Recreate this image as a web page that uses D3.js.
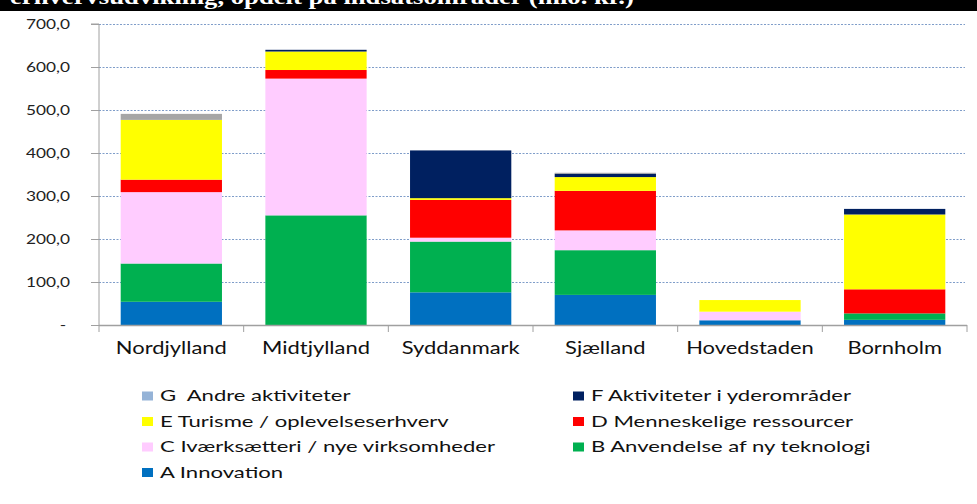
<!DOCTYPE html>
<html><head><meta charset="utf-8">
<script src="https://cdn.jsdelivr.net/npm/d3@7"></script>
<style>body{margin:0;background:#fff}svg{display:block}text{white-space:pre}</style>
</head><body>
<svg id="c" width="977" height="504"></svg>
<script>
const title = "erhvervsudvikling, opdelt på indsatsområder (mio. kr.)";
const categories = ["Nordjylland","Midtjylland","Syddanmark","Sjælland","Hovedstaden","Bornholm"];
const seriesKeys = ["A","B","C","D","E","F","G"];
const seriesNames = ["A Innovation","B Anvendelse af ny teknologi","C Iværksætteri / nye virksomheder","D Menneskelige ressourcer","E Turisme / oplevelseserhverv","F Aktiviteter i yderområder","G  Andre aktiviteter"];
const A = [54, 0, 76, 70, 11, 12];
const B = [89, 255, 118, 104, 0, 15];
const C = [166, 318, 9, 46, 20, 0];
const D = [29, 20, 88, 92, 0, 56];
const E = [139, 43, 4, 32, 27, 174];
const F = [0, 4, 111, 8, 0, 13];
const G = [14, 0, 0, 2, 0, 0];
const barColors = ["#0070c0","#00b050","#ffccff","#ff0000","#ffff00","#002060","#a6a6a6"];
const legendColors = ["#0070c0","#00b050","#ffccff","#ff0000","#ffff00","#002060","#95b3d7"];
const yTicks = [0,100,200,300,400,500,600,700];
const legendOrder = ["G","F","E","D","C","B","A"];

const svg = d3.select("#c");
const font = "Lato, 'Open Sans', sans-serif";

function stretchedText(parent, tx, ty, sx, txt, size, anchor, fill){
  const g = parent.append("g").attr("transform",`translate(${tx},${ty}) scale(${sx},1)`);
  return g.append("text").attr("x",0).attr("y",0).attr("text-anchor",anchor||"start")
    .attr("font-family",font).attr("font-size",size).attr("fill",fill||"#111").text(txt);
}

// title band
svg.append("rect").attr("x",0).attr("y",0).attr("width",977).attr("height",11).attr("fill","#000");
svg.append("defs").append("clipPath").attr("id","tc").append("rect").attr("x",0).attr("y",0).attr("width",977).attr("height",11);
const tg = svg.append("g").attr("clip-path","url(#tc)");
tg.append("g").attr("transform","translate(10,4) scale(1.27,1)")
  .append("text").attr("x",0).attr("y",0)
  .attr("font-family","'Liberation Serif', 'DejaVu Serif', serif").attr("font-weight","bold")
  .attr("font-size",21).attr("fill","#fff").text(title);

const x0 = 99, x1 = 967, yTop = 24, yBot = 325;
const x = d3.scaleBand().domain(categories).range([x0,x1]).paddingInner(0.3).paddingOuter(0.15);
const y = d3.scaleLinear().domain([0,700]).range([yBot,yTop]);

const table = categories.map((c,i)=>({cat:c,A:A[i],B:B[i],C:C[i],D:D[i],E:E[i],F:F[i],G:G[i]}));
const stacked = d3.stack().keys(seriesKeys)(table);

// gridlines
svg.append("g").selectAll("line").data(yTicks.filter(d=>d>0)).join("line")
  .attr("x1",x0).attr("x2",x1-2).attr("y1",d=>Math.round(y(d))+0.5).attr("y2",d=>Math.round(y(d))+0.5)
  .attr("stroke","#7f9dc9").attr("stroke-width",1).attr("stroke-dasharray","2,1.5");

// bars
svg.append("g").selectAll("g").data(stacked).join("g")
  .attr("fill",(d,i)=>barColors[i])
  .selectAll("rect").data(d=>d.filter(p=>p[1]-p[0]>0)).join("rect")
  .attr("x",d=>x(d.data.cat)).attr("width",x.bandwidth())
  .attr("y",d=>y(d[1])).attr("height",d=>y(d[0])-y(d[1]));

// y axis
const yAxis = d3.axisLeft(y).tickValues(yTicks).tickSize(8).tickFormat("");
const ga = svg.append("g").attr("transform",`translate(${x0},0)`).call(yAxis);
ga.select(".domain").attr("stroke","#a0a0a0").attr("d",`M-8,${yTop}H0V${yBot}`);
ga.selectAll(".tick line").attr("stroke","#a0a0a0");
const yfmt = d=> d===0 ? "-" : d3.format(".1f")(d).replace(".",",");
yTicks.forEach(v=>{
  stretchedText(svg, v===0 ? 63 : 70, y(v)+4.7, 1.28, yfmt(v), 13.5, v===0?"middle":"end", "#222");
});

// x axis
const gx = svg.append("g").attr("transform",`translate(0,${yBot})`);
gx.append("line").attr("x1",x0).attr("x2",x1).attr("y1",0.5).attr("y2",0.5).attr("stroke","#a0a0a0").attr("stroke-width",1.5);
const bounds = categories.map(c=>x(c)-x.step()*x.paddingInner()/2);
bounds.push(x1);
bounds[0] = x0;
gx.selectAll("line.t").data(bounds).join("line").attr("class","t")
  .attr("x1",d=>d).attr("x2",d=>d).attr("y1",0).attr("y2",7).attr("stroke","#a0a0a0");
categories.forEach(c=>{
  stretchedText(svg, x(c)+x.bandwidth()/2, 354, 1.29, c, 17, "middle", "#111");
});

// legend
const lg = svg.append("g");
legendOrder.forEach((k,i)=>{
  const si = seriesKeys.indexOf(k);
  const col = i%2, row = Math.floor(i/2);
  const lx = col===0 ? 142 : 573, by = 401 + row*25.5;
  lg.append("rect").attr("x",lx).attr("y",by-9.5).attr("width",11).attr("height",9).attr("fill",legendColors[si]);
  stretchedText(lg, lx+18, by, 1.38, seriesNames[si], 16, "start", "#111");
});
</script>
</body></html>
